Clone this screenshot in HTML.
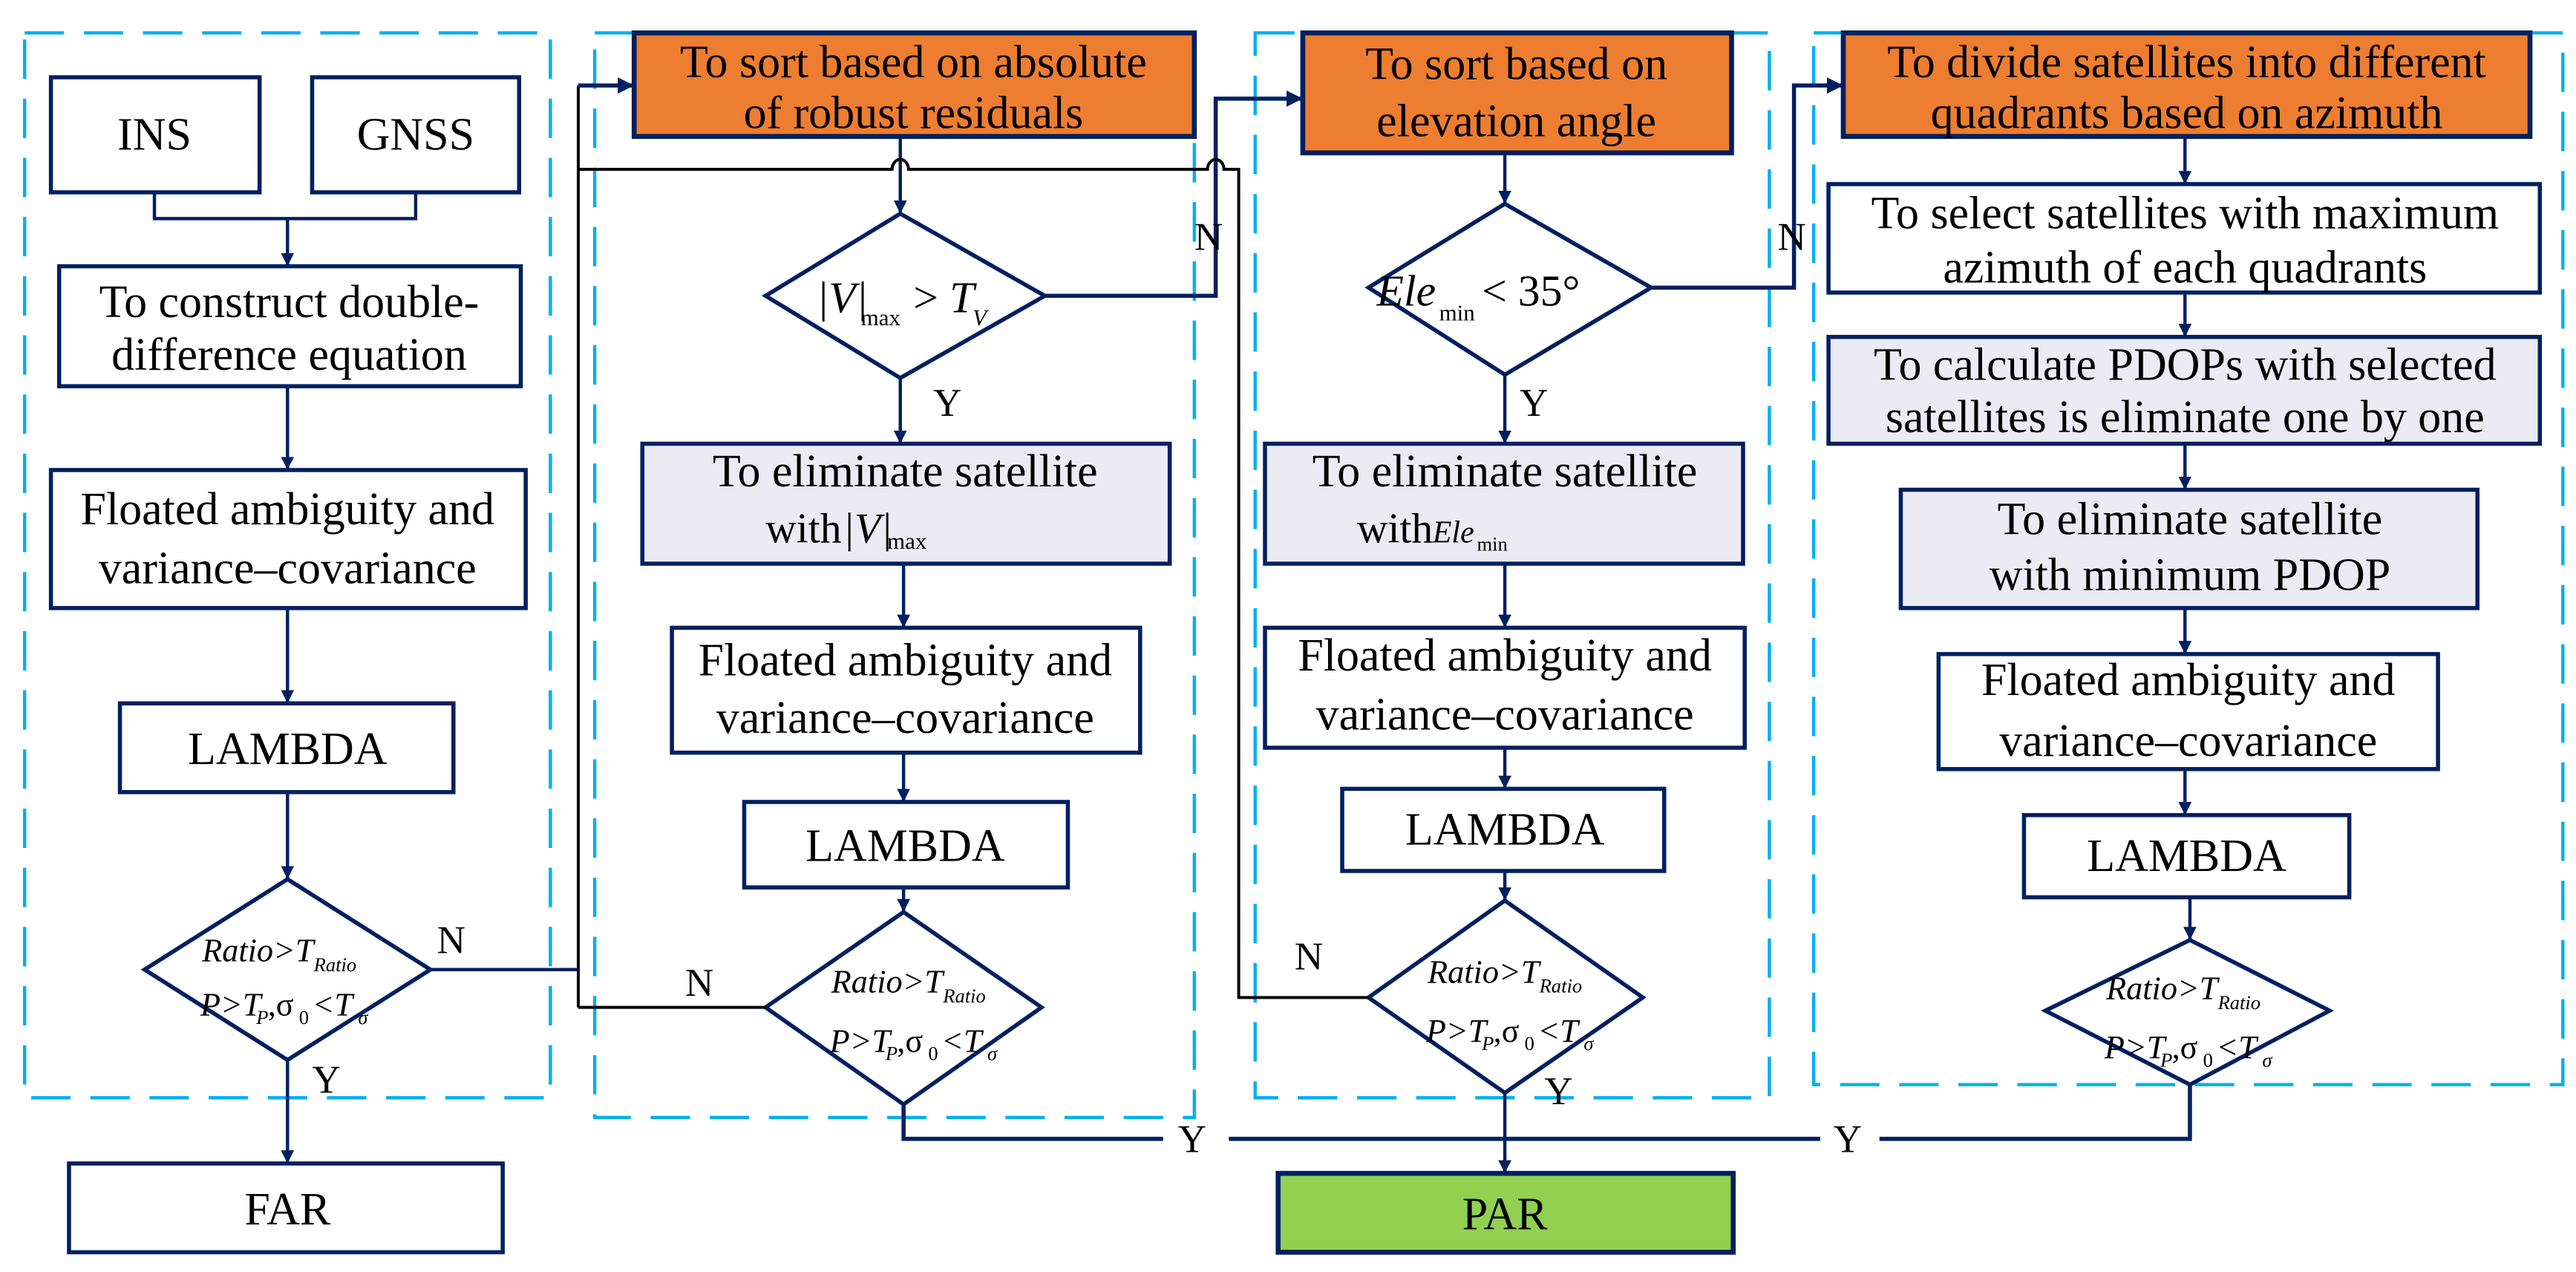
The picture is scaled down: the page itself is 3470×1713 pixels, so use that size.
<!DOCTYPE html>
<html><head><meta charset="utf-8"><style>
html,body{margin:0;padding:0;background:#fff;}
svg{display:block;}
svg text{font-family:"Liberation Serif","DejaVu Serif",serif !important;fill:#000;}
</style></head><body>
<svg width="3470" height="1713" viewBox="0 0 1568 774" xmlns="http://www.w3.org/2000/svg" font-family="Liberation Serif, serif">
<defs>
<marker id="a" viewBox="0 0 10 10" refX="10" refY="5" markerWidth="8" markerHeight="8" markerUnits="userSpaceOnUse" orient="auto"><path d="M0,0 L10,5 L0,10 z" fill="#002060"/></marker>
<marker id="b" viewBox="0 0 10 10" refX="10" refY="5" markerWidth="10" markerHeight="10" markerUnits="userSpaceOnUse" orient="auto"><path d="M0,0 L10,5 L0,10 z" fill="#002060"/></marker>
</defs>
<g fill="none" stroke="#00b0f0" stroke-width="2" stroke-dasharray="24,12">
<rect x="15" y="20" width="320" height="648"/>
<rect x="362" y="20" width="365" height="660"/>
<rect x="764" y="20" width="313" height="648"/>
<rect x="1104" y="20" width="456" height="640"/>
</g>
<g stroke="#002060" stroke-width="2.5" fill="#fff">
<rect x="31" y="47" width="127" height="70"/>
<rect x="190" y="47" width="126" height="70"/>
<rect x="36" y="162" width="281" height="73"/>
<rect x="31" y="286" width="289" height="84"/>
<rect x="73" y="428" width="203" height="54"/>
<rect x="42" y="708" width="264" height="54"/>
<rect x="386" y="20" width="341" height="63" fill="#ed7d31" stroke-width="3"/>
<rect x="391" y="270" width="321" height="73" fill="#ecebf3"/>
<rect x="409" y="382" width="285" height="76"/>
<rect x="453" y="488" width="197" height="52"/>
<rect x="793" y="20" width="261" height="73" fill="#ed7d31" stroke-width="3"/>
<rect x="770" y="270" width="291" height="73" fill="#ecebf3"/>
<rect x="770" y="382" width="292" height="73"/>
<rect x="817" y="480" width="196" height="50"/>
<rect x="778" y="714" width="277" height="48" fill="#92d050" stroke-width="3"/>
<rect x="1122" y="20" width="418" height="63" fill="#ed7d31" stroke-width="3"/>
<rect x="1113" y="112" width="433" height="66"/>
<rect x="1113" y="205" width="433" height="65" fill="#ecebf3"/>
<rect x="1157" y="298" width="351" height="72" fill="#ecebf3"/>
<rect x="1180" y="398" width="304" height="70"/>
<rect x="1232" y="496" width="198" height="50"/>
<polygon points="175,535 262,590 175,645 88,590"/>
<polygon points="548,130 636,180 548,230 466,180"/>
<polygon points="550,555 634,613 550,672 466,613"/>
<polygon points="916,124 1005,175 916,228 833,175"/>
<polygon points="916,548 1000,607 916,665 833,607"/>
<polygon points="1333,572 1418,615 1333,660 1245,615"/>
</g>
<g stroke="#002060" stroke-width="2" fill="none">
<polyline points="94,117 94,133 253,133 253,117"/>
<line x1="175" y1="133" x2="175" y2="162" marker-end="url(#a)"/>
<line x1="175" y1="235" x2="175" y2="286" marker-end="url(#a)"/>
<line x1="175" y1="370" x2="175" y2="428" marker-end="url(#a)"/>
<line x1="175" y1="482" x2="175" y2="535" marker-end="url(#a)"/>
<line x1="175" y1="645" x2="175" y2="708" marker-end="url(#a)"/>
<polyline points="262,590 352,590"/>
<line x1="548" y1="83" x2="548" y2="130" marker-end="url(#a)"/>
<line x1="548" y1="230" x2="548" y2="270" marker-end="url(#a)"/>
<line x1="550" y1="343" x2="550" y2="382" marker-end="url(#a)"/>
<line x1="550" y1="458" x2="550" y2="488" marker-end="url(#a)"/>
<line x1="550" y1="540" x2="550" y2="555" marker-end="url(#a)"/>
<path d="M636,180 H740 V60 H793" stroke-width="2.5" marker-end="url(#b)"/>
<line x1="916" y1="93" x2="916" y2="124" marker-end="url(#a)"/>
<line x1="916" y1="228" x2="916" y2="270" marker-end="url(#a)"/>
<line x1="916" y1="343" x2="916" y2="382" marker-end="url(#a)"/>
<line x1="916" y1="455" x2="916" y2="480" marker-end="url(#a)"/>
<line x1="916" y1="530" x2="916" y2="548" marker-end="url(#a)"/>
<line x1="916" y1="665" x2="916" y2="714" marker-end="url(#a)"/>
<path d="M1005,175 H1092 V52 H1122" stroke-width="2.5" marker-end="url(#b)"/>
<line x1="1330" y1="83" x2="1330" y2="112" marker-end="url(#a)"/>
<line x1="1330" y1="178" x2="1330" y2="205" marker-end="url(#a)"/>
<line x1="1330" y1="270" x2="1330" y2="298" marker-end="url(#a)"/>
<line x1="1330" y1="370" x2="1330" y2="398" marker-end="url(#a)"/>
<line x1="1330" y1="468" x2="1330" y2="496" marker-end="url(#a)"/>
<line x1="1333" y1="546" x2="1333" y2="572" marker-end="url(#a)"/>
<polyline points="550,672 550,693 916,693" stroke-width="2.5"/>
<polyline points="1333,660 1333,693 916,693" stroke-width="2.5"/>
</g>
<g stroke="#000" stroke-width="1.8" fill="none">
<polyline points="352,613 352,52"/>
<polyline points="466,613 352,613"/>
<path d="M352,103 H543 a5,6 0 0 1 10,0 H735 a5,6 0 0 1 10,0 H754 V607 H833"/>
</g>
<line x1="352" y1="52" x2="386" y2="52" stroke="#002060" stroke-width="2.5" marker-end="url(#b)"/>
<rect x="708" y="684" width="40" height="18" fill="#fff"/>
<rect x="1108" y="684" width="36" height="18" fill="#fff"/>
<g font-size="28" text-anchor="middle" font-family="Liberation Serif, serif">
<text x="94" y="91">INS</text>
<text x="253" y="91">GNSS</text>
<text x="176" y="193">To construct double-</text>
<text x="176" y="225">difference equation</text>
<text x="175" y="319">Floated ambiguity and</text>
<text x="175" y="355">variance–covariance</text>
<text x="175" y="465">LAMBDA</text>
<text x="175" y="745">FAR</text>
<text x="556" y="47">To sort based on absolute</text>
<text x="556" y="78">of robust residuals</text>
<text x="551" y="296">To eliminate satellite</text>
<text x="551" y="411">Floated ambiguity and</text>
<text x="551" y="446">variance–covariance</text>
<text x="551" y="524">LAMBDA</text>
<text x="923" y="48">To sort based on</text>
<text x="923" y="83">elevation angle</text>
<text x="916" y="296">To eliminate satellite</text>
<text x="916" y="408">Floated ambiguity and</text>
<text x="916" y="444">variance–covariance</text>
<text x="916" y="514">LAMBDA</text>
<text x="916" y="748">PAR</text>
<text x="1331" y="47">To divide satellites into different</text>
<text x="1331" y="78">quadrants based on azimuth</text>
<text x="1330" y="139">To select satellites with maximum</text>
<text x="1330" y="172">azimuth of each quadrants</text>
<text x="1330" y="231">To calculate PDOPs with selected</text>
<text x="1330" y="263">satellites is eliminate one by one</text>
<text x="1333" y="325">To eliminate satellite</text>
<text x="1333" y="359">with minimum PDOP</text>
<text x="1332" y="423">Floated ambiguity and</text>
<text x="1332" y="460">variance–covariance</text>
<text x="1331" y="530">LAMBDA</text>
</g>
<g font-size="24" font-family="Liberation Serif, serif">
<text x="266" y="580">N</text>
<text x="190" y="665">Y</text>
<text x="417" y="606">N</text>
<text x="727" y="152">N</text>
<text x="568" y="253">Y</text>
<text x="717" y="701">Y</text>
<text x="1116" y="701">Y</text>
<text x="788" y="590">N</text>
<text x="1082" y="152">N</text>
<text x="925" y="253">Y</text>
<text x="940" y="672">Y</text>
</g>
<g font-size="26" font-family="Liberation Serif, serif">
<text x="466" y="330">with</text>
<text x="513" y="330" font-style="italic">|V|</text><text x="540" y="334" font-size="14">max</text>
<text x="826" y="330">with</text>
<text x="872" y="330" font-size="19" font-style="italic">Ele</text><text x="899" y="335" font-size="12">min</text>
</g>
<g font-size="27" font-style="italic" font-family="Liberation Serif, serif">
<text x="497" y="190">|V|</text><text x="524" y="198" font-size="14" font-style="normal">max</text><text x="556" y="190" font-style="normal">&gt;</text><text x="578" y="190">T</text><text x="592" y="198" font-size="14">V</text>
<text x="838" y="186">Ele</text><text x="876" y="195" font-size="14" font-style="normal">min</text><text x="902" y="186" font-style="normal">&lt; 35°</text>
</g>
<g font-size="20" font-style="italic" font-family="Liberation Serif, serif">
<text x="123" y="585">Ratio&gt;T</text><text x="191" y="591" font-size="12">Ratio</text>
<text x="122" y="618">P&gt;T</text><text x="156" y="623" font-size="12">P</text><text x="163" y="618" font-style="normal">,σ</text><text x="182" y="623" font-size="12" font-style="normal">0</text><text x="190" y="618">&lt;T</text><text x="218" y="623" font-size="12">σ</text>
<text x="506" y="604">Ratio&gt;T</text><text x="574" y="610" font-size="12">Ratio</text>
<text x="505" y="640">P&gt;T</text><text x="539" y="645" font-size="12">P</text><text x="546" y="640" font-style="normal">,σ</text><text x="565" y="645" font-size="12" font-style="normal">0</text><text x="573" y="640">&lt;T</text><text x="601" y="645" font-size="12">σ</text>
<text x="869" y="598">Ratio&gt;T</text><text x="937" y="604" font-size="12">Ratio</text>
<text x="868" y="634">P&gt;T</text><text x="902" y="639" font-size="12">P</text><text x="909" y="634" font-style="normal">,σ</text><text x="928" y="639" font-size="12" font-style="normal">0</text><text x="936" y="634">&lt;T</text><text x="964" y="639" font-size="12">σ</text>
<text x="1282" y="608">Ratio&gt;T</text><text x="1350" y="614" font-size="12">Ratio</text>
<text x="1281" y="644">P&gt;T</text><text x="1315" y="649" font-size="12">P</text><text x="1322" y="644" font-style="normal">,σ</text><text x="1341" y="649" font-size="12" font-style="normal">0</text><text x="1349" y="644">&lt;T</text><text x="1377" y="649" font-size="12">σ</text>
</g>
</svg>
</body></html>
